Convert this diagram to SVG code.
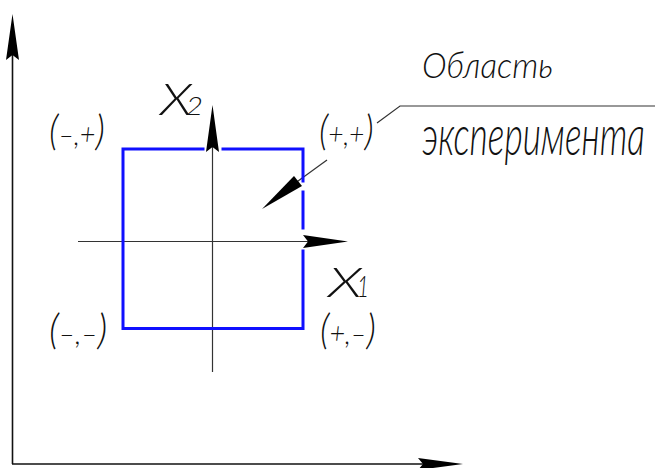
<svg xmlns="http://www.w3.org/2000/svg" width="655" height="468" viewBox="0 0 655 468">
<style>
.ax{stroke:#111;stroke-width:1.6;fill:none}
.thin{stroke:#333;stroke-width:1.2;fill:none}
.sq{stroke:#1010ff;stroke-width:3;fill:none;stroke-linecap:square}
.ah{fill:#000}
.t{font-family:Lato,"Open Sans","Liberation Sans",sans-serif;font-style:italic;font-weight:300;fill:#111}
.p{font-size:42px}
.i{font-size:30px}
</style>
<rect width="655" height="468" fill="#fff"/>
<g id="connectors">
<line class="ax" x1="12.5" y1="30" x2="12.5" y2="464"/>
<line class="ax" x1="12" y1="464" x2="440" y2="464"/>
<polygon class="ah" points="12.5,14 19,60 12.5,55 6,60"/>
<polygon class="ah" points="463,464 418,458 423,464 418,470"/>
<line class="thin" x1="78" y1="241.5" x2="320" y2="241.5"/>
<polygon class="ah" points="348,241.5 303,235 308,241.5 303,248"/>
<line class="thin" x1="212.5" y1="120" x2="212.5" y2="372"/>
<polygon class="ah" points="212.5,105 219,152 212.5,147 206,152"/>
<line class="thin" x1="296" y1="182.5" x2="327" y2="160"/>
<polygon class="ah" points="262,209 302,186 298,181 294,176"/>
<polyline class="thin" points="377,123 400,106 655,106"/>
</g>
<g id="region">
<polyline class="sq" points="203,149 123,149 123,328.5 303,328.5 303,251"/>
<polyline class="sq" points="223,149 303,149 303,181"/>
<line class="sq" x1="303" y1="192" x2="303" y2="228"/>
</g>
<g id="labels">
<text class="t" transform="translate(49,145) scale(0.9,1)"><tspan class="p">(</tspan><tspan class="i">–,+</tspan><tspan class="p">)</tspan></text>
<text class="t" transform="translate(319,145) scale(0.88,1)"><tspan class="p">(</tspan><tspan class="i">+,+</tspan><tspan class="p">)</tspan></text>
<text class="t" transform="translate(49,344) scale(0.94,1)"><tspan class="p">(</tspan><tspan class="i">–,–</tspan><tspan class="p">)</tspan></text>
<text class="t" transform="translate(320,344) scale(0.9,1)"><tspan class="p">(</tspan><tspan class="i">+,–</tspan><tspan class="p">)</tspan></text>
<text class="t" x="160" y="115" font-size="44" textLength="32" lengthAdjust="spacingAndGlyphs">X</text>
<text class="t" x="186" y="115" font-size="25" textLength="17" lengthAdjust="spacingAndGlyphs">2</text>
<text class="t" x="328" y="297" font-size="42" textLength="34" lengthAdjust="spacingAndGlyphs">X</text>
<text class="t" x="357" y="297" font-size="30" textLength="12" lengthAdjust="spacingAndGlyphs">1</text>
<text class="t" x="422" y="78" font-size="35" textLength="131" lengthAdjust="spacingAndGlyphs">Область</text>
<text class="t" transform="translate(422,155) scale(1,1.55)" font-size="36" textLength="223" lengthAdjust="spacingAndGlyphs">эксперимента</text>
</g>
</svg>
